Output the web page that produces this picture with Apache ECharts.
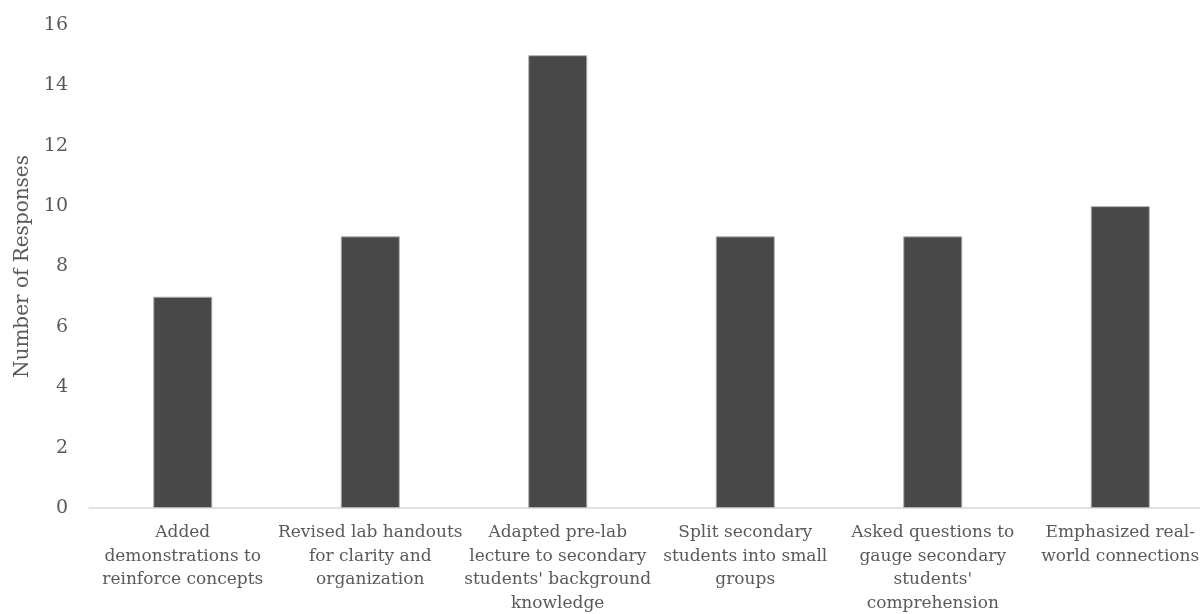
<!DOCTYPE html>
<html>
<head>
<meta charset="utf-8">
<script src="https://cdn.jsdelivr.net/npm/echarts@6/dist/echarts.min.js"></script>
<style>
  html, body { margin: 0; padding: 0; background: #fff; }
  #chart { width: 1200px; height: 614px; }
</style>
</head>
<body>
<div id="chart"></div>
<script>
// Strategies reported by respondents (labels wrapped for the axis)
const categories = [
  "Added\ndemonstrations to\nreinforce concepts",
  "Revised lab handouts\nfor clarity and\norganization",
  "Adapted pre-lab\nlecture to secondary\nstudents' background\nknowledge",
  "Split secondary\nstudents into small\ngroups",
  "Asked questions to\ngauge secondary\nstudents'\ncomprehension",
  "Emphasized real-\nworld connections"
];
const responses = [7, 9, 15, 9, 9, 10];
const yTicks = { min: 0, max: 16, interval: 2 };

const FONT = "DejaVu Serif";
const TEXT = "#595959";

const chart = echarts.init(document.getElementById("chart"), null, { renderer: "canvas" });
chart.setOption({
  animation: false,
  backgroundColor: "#ffffff",
  textStyle: { fontFamily: FONT },
  // plot area runs slightly past the right edge of the canvas
  grid: {
    left: 89, width: 1125, top: 25, bottom: 106,
    containLabel: false,
    outerBoundsMode: "none"
  },
  xAxis: {
    type: "category",
    data: categories,
    axisLine: { show: true, lineStyle: { color: "#d9d9d9", width: 1.5 } },
    axisTick: { show: false },
    axisLabel: {
      interval: 0,
      color: TEXT,
      fontFamily: FONT,
      fontSize: 17,
      lineHeight: 23.5,
      margin: 13,
      align: "center"
    }
  },
  yAxis: {
    type: "value",
    min: yTicks.min,
    max: yTicks.max,
    interval: yTicks.interval,
    name: "Number of Responses",
    nameLocation: "middle",
    nameGap: 56,
    nameRotate: 90,
    nameTextStyle: { color: TEXT, fontFamily: FONT, fontSize: 20 },
    axisLine: { show: false },
    axisTick: { show: false },
    splitLine: { show: false },
    axisLabel: { color: TEXT, fontFamily: FONT, fontSize: 19, margin: 21 }
  },
  series: [{
    type: "bar",
    data: responses,
    barWidth: "31.5%",
    itemStyle: { color: "#484848", borderColor: "#b0b0b0", borderWidth: 1 }
  }]
});
</script>
</body>
</html>
